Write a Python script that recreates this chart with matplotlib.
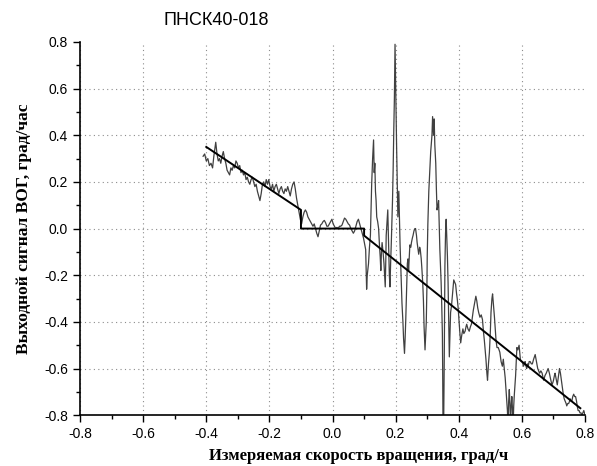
import matplotlib
matplotlib.use("Agg")
import matplotlib.pyplot as plt
from matplotlib.ticker import MultipleLocator

trace_x = [
    -0.410, -0.405, -0.400, -0.395, -0.390, -0.385, -0.380, -0.376, -0.372, -0.370,
    -0.366, -0.362, -0.358, -0.354, -0.350, -0.346, -0.342, -0.338, -0.334, -0.330,
    -0.326, -0.322, -0.318, -0.314, -0.310, -0.306, -0.302, -0.298, -0.294, -0.290,
    -0.286, -0.282, -0.278, -0.274, -0.270, -0.266, -0.262, -0.258, -0.254, -0.250,
    -0.246, -0.242, -0.238, -0.234, -0.230, -0.226, -0.222, -0.218, -0.214, -0.210,
    -0.206, -0.202, -0.198, -0.194, -0.190, -0.186, -0.182, -0.178, -0.174, -0.170,
    -0.166, -0.162, -0.158, -0.154, -0.150, -0.146, -0.142, -0.138, -0.134, -0.130,
    -0.126, -0.122, -0.118, -0.114, -0.110, -0.106, -0.102, -0.098,
    -0.094, -0.090, -0.086, -0.082, -0.078, -0.074, -0.070, -0.066, -0.062, -0.058,
    -0.054, -0.050, -0.046, -0.042, -0.038, -0.034, -0.030, -0.026, -0.022, -0.018,
    -0.014, -0.010, -0.006, -0.002, 0.002, 0.006, 0.010, 0.014, 0.018, 0.022,
    0.026, 0.030, 0.034, 0.038, 0.042, 0.046, 0.050, 0.054, 0.058, 0.062,
    0.066, 0.070, 0.074, 0.078, 0.082, 0.086, 0.090, 0.094, 0.098,
    0.102, 0.105, 0.108, 0.110, 0.114, 0.117, 0.120, 0.122, 0.124, 0.127,
    0.130, 0.132, 0.134, 0.136, 0.138, 0.140, 0.143, 0.146, 0.149, 0.151,
    0.153, 0.155, 0.157, 0.160, 0.163, 0.165, 0.167, 0.169, 0.170, 0.173,
    0.175, 0.177, 0.178, 0.180, 0.182, 0.184, 0.186, 0.188, 0.190, 0.192,
    0.194, 0.196, 0.198, 0.199, 0.200, 0.202, 0.203, 0.205, 0.207, 0.209,
    0.210, 0.212, 0.214, 0.216, 0.218, 0.220, 0.223, 0.225, 0.228, 0.230,
    0.232, 0.235, 0.237, 0.239, 0.241, 0.243, 0.245, 0.248, 0.250, 0.253,
    0.255, 0.258, 0.261, 0.263, 0.266, 0.268, 0.271, 0.273, 0.276, 0.278,
    0.281, 0.283, 0.286, 0.288, 0.290, 0.293, 0.295, 0.297, 0.299, 0.300,
    0.302, 0.305, 0.308, 0.311, 0.313, 0.315, 0.317,
    0.320, 0.322, 0.324, 0.327, 0.329, 0.331, 0.334, 0.336, 0.338, 0.340,
    0.342, 0.344, 0.346, 0.348, 0.349, 0.350, 0.352, 0.354, 0.356, 0.358,
    0.360, 0.362, 0.364, 0.366, 0.368, 0.370, 0.372, 0.374, 0.377, 0.379,
    0.382, 0.384, 0.387, 0.390, 0.393, 0.395, 0.398, 0.400, 0.403, 0.406,
    0.409, 0.413, 0.416, 0.420, 0.423, 0.425, 0.429, 0.433, 0.437, 0.440,
    0.443, 0.446, 0.450, 0.454, 0.457, 0.460, 0.463, 0.467, 0.471, 0.475,
    0.478, 0.481, 0.484, 0.486, 0.489, 0.491, 0.494, 0.497, 0.500, 0.502,
    0.505, 0.507, 0.510, 0.513, 0.516, 0.518, 0.521, 0.525, 0.530, 0.534,
    0.538, 0.541, 0.544, 0.547, 0.551, 0.554, 0.556, 0.558, 0.560, 0.562,
    0.564, 0.566, 0.568, 0.570, 0.572, 0.574, 0.576, 0.578, 0.580, 0.582,
    0.584, 0.587, 0.591, 0.593, 0.595, 0.598, 0.600, 0.603, 0.605, 0.608,
    0.610, 0.613, 0.615, 0.618, 0.620, 0.623, 0.626, 0.630, 0.633, 0.637,
    0.642, 0.646, 0.650, 0.653, 0.656, 0.660, 0.664, 0.667, 0.669, 0.673,
    0.677, 0.680, 0.683, 0.687, 0.690, 0.695, 0.698, 0.700, 0.703, 0.705,
    0.709, 0.712, 0.716, 0.719, 0.722, 0.725, 0.728, 0.731, 0.734, 0.737,
    0.740, 0.742, 0.745, 0.748, 0.751, 0.753, 0.756, 0.758, 0.761, 0.764,
    0.767, 0.770, 0.773, 0.775, 0.778, 0.781, 0.784, 0.787, 0.790, 0.793,
    0.796, 0.798, 0.800,
]
trace_y = [
    0.31, 0.32, 0.29, 0.30, 0.27, 0.28, 0.26, 0.31, 0.35, 0.37,
    0.32, 0.29, 0.30, 0.28, 0.31, 0.33, 0.30, 0.28, 0.25, 0.24,
    0.23, 0.26, 0.25, 0.27, 0.26, 0.29, 0.28, 0.26, 0.27, 0.24,
    0.25, 0.23, 0.24, 0.21, 0.22, 0.20, 0.19, 0.21, 0.22, 0.20,
    0.18, 0.19, 0.16, 0.14, 0.12, 0.15, 0.19, 0.20, 0.18, 0.21,
    0.19, 0.21, 0.18, 0.17, 0.19, 0.16, 0.18, 0.19, 0.17, 0.15,
    0.17, 0.18, 0.16, 0.15, 0.17, 0.16, 0.18, 0.16, 0.14, 0.17,
    0.19, 0.20, 0.17, 0.13, 0.10, 0.07, 0.04, 0.02,
    0.05, 0.07, 0.08, 0.07, 0.05, 0.04, 0.03, 0.02, 0.01, 0.02,
    0.00, -0.02, -0.035, -0.01, 0.015, 0.02, 0.03, 0.035, 0.025, 0.01,
    0.01, 0.02, 0.03, 0.04, 0.02, 0.01, 0.00, 0.005, 0.00, 0.01,
    0.01, 0.015, 0.03, 0.045, 0.04, 0.03, 0.02, 0.015, 0.00, -0.01,
    -0.02, -0.01, 0.01, 0.03, 0.04, 0.02, 0.00, -0.02, -0.04,
    -0.07, -0.09, -0.26, -0.20, -0.15, -0.08, -0.03, 0.08, 0.19, 0.30,
    0.38, 0.24, 0.28, 0.16, 0.12, 0.05, 0.03, 0.00, -0.08, -0.12,
    -0.18, -0.10, -0.06, -0.10, -0.15, -0.20, -0.25, -0.12, -0.03, 0.04,
    0.08, -0.04, -0.12, -0.20, -0.25, -0.15, -0.07, 0.03, 0.12, 0.25,
    0.42, 0.56, 0.79, 0.70, 0.64, 0.45, 0.35, 0.20, 0.05, 0.12,
    0.16, 0.05, -0.07, -0.15, -0.23, -0.32, -0.40, -0.47, -0.535, -0.47,
    -0.39, -0.25, -0.15, -0.13, -0.18, -0.12, -0.07, -0.08, -0.06, -0.04,
    -0.03, -0.01, 0.00, 0.00, -0.03, -0.06, -0.09, -0.11, -0.08, -0.09,
    -0.13, -0.17, -0.24, -0.31, -0.42, -0.52, -0.46, -0.40, -0.25, -0.12,
    0.02, 0.16, 0.25, 0.33, 0.365, 0.40, 0.48,
    0.40, 0.47, 0.36, 0.28, 0.17, 0.08, 0.10, 0.12, 0.02, -0.09,
    -0.16, -0.23, -0.33, -0.45, -0.62, -0.85, -0.85, -0.55, -0.16, -0.02,
    0.04, -0.04, -0.12, -0.23, -0.40, -0.55, -0.45, -0.36, -0.33, -0.30,
    -0.25, -0.22, -0.23, -0.24, -0.28, -0.30, -0.34, -0.38, -0.44, -0.49,
    -0.46, -0.43, -0.45, -0.44, -0.42, -0.41, -0.43, -0.44, -0.42, -0.41,
    -0.38, -0.35, -0.32, -0.29, -0.31, -0.34, -0.36, -0.38, -0.37, -0.39,
    -0.44, -0.48, -0.53, -0.56, -0.62, -0.65, -0.58, -0.53, -0.44, -0.36,
    -0.30, -0.28, -0.33, -0.38, -0.44, -0.48, -0.51, -0.51, -0.53, -0.57,
    -0.59, -0.56, -0.60, -0.64, -0.72, -0.78, -0.85, -0.74, -0.69, -0.75,
    -0.85, -0.76, -0.72, -0.77, -0.85, -0.76, -0.71, -0.67, -0.63, -0.57,
    -0.51, -0.52, -0.50, -0.53, -0.56, -0.57, -0.57, -0.58, -0.59, -0.58,
    -0.57, -0.59, -0.60, -0.58, -0.59, -0.57, -0.57, -0.58, -0.58, -0.56,
    -0.54, -0.57, -0.60, -0.61, -0.62, -0.61, -0.62, -0.64, -0.65, -0.63,
    -0.62, -0.61, -0.60, -0.62, -0.64, -0.67, -0.66, -0.65, -0.63, -0.62,
    -0.65, -0.67, -0.63, -0.60, -0.62, -0.65, -0.68, -0.71, -0.73, -0.74,
    -0.75, -0.76, -0.75, -0.75, -0.74, -0.73, -0.74, -0.74, -0.72, -0.71,
    -0.72, -0.72, -0.74, -0.76, -0.78, -0.78, -0.79, -0.79, -0.80, -0.79,
    -0.78, -0.79, -0.80,
]

# piecewise model with dead zone
fit_x = [-0.40, -0.10, -0.10, 0.10, 0.10, 0.785]
fit_y = [0.35, 0.08, 0.00, 0.00, -0.03, -0.77]

x_ticks = [-0.8, -0.6, -0.4, -0.2, 0.0, 0.2, 0.4, 0.6, 0.8]
y_ticks = [-0.8, -0.6, -0.4, -0.2, 0.0, 0.2, 0.4, 0.6, 0.8]

fig = plt.figure(figsize=(5.97, 4.66), dpi=100)
ax = fig.add_axes([0.134, 0.109, 0.846, 0.801])

ax.plot(trace_x, trace_y, color='#404040', linewidth=0.9)
ax.plot(fit_x, fit_y, color='black', linewidth=1.4)

ax.set_xlim(-0.8, 0.8)
ax.set_ylim(-0.8, 0.8)
ax.set_xticks(x_ticks)
ax.set_yticks(y_ticks)
ax.set_xticklabels([f"{v:.1f}" for v in x_ticks], fontfamily='Liberation Sans', fontsize=10)
ax.set_yticklabels([f"{v:.1f}" for v in y_ticks], fontfamily='Liberation Sans', fontsize=10)
ax.xaxis.set_minor_locator(MultipleLocator(0.1))
ax.yaxis.set_minor_locator(MultipleLocator(0.1))
ax.tick_params(which='major', direction='out', length=5, width=1)
ax.tick_params(which='minor', direction='out', length=3, width=1)

ax.spines['top'].set_visible(False)
ax.spines['right'].set_visible(False)
ax.spines['left'].set_linewidth(1.2)
ax.spines['bottom'].set_linewidth(1.2)

ax.grid(True, which='major', linestyle=(0, (1, 3)), color='#8c8c8c', linewidth=0.8)
# no grid line along the top and right edges
ax.get_xgridlines()[-1].set_visible(False)
ax.get_ygridlines()[-1].set_visible(False)

ax.set_xlabel('Измеряемая скорость вращения, град/ч', fontfamily='Liberation Serif',
              fontweight='bold', fontsize=12)
ax.xaxis.set_label_coords(0.552, -0.087)
ax.set_ylabel('Выходной сигнал ВОГ, град/час', fontfamily='Liberation Serif',
              fontweight='bold', fontsize=12.5, labelpad=9)

fig.text(0.362, 0.955, 'ПНСК40-018', fontfamily='Liberation Sans', fontsize=13,
         ha='center', va='center')

fig.savefig('out.png', dpi=100)
